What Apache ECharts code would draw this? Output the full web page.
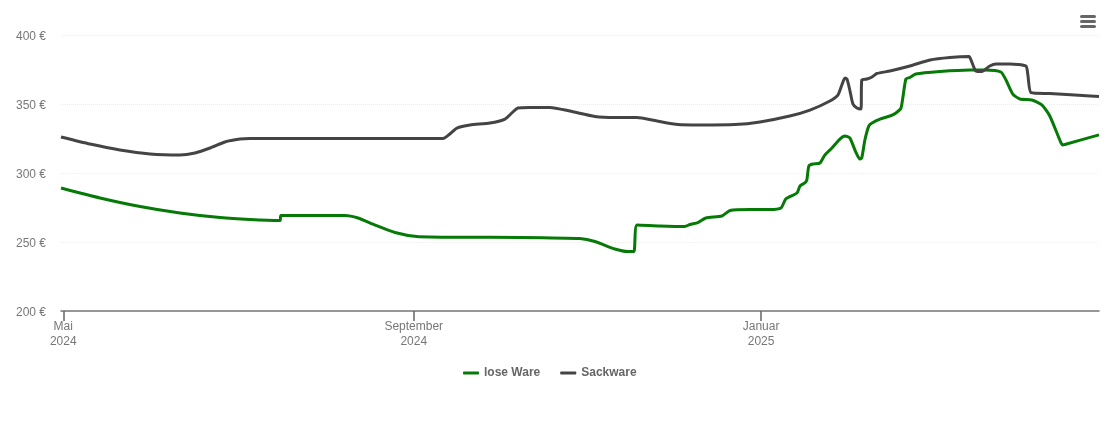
<!DOCTYPE html>
<html>
<head>
<meta charset="utf-8">
<style>html,body{margin:0;padding:0;background:#fff}</style>
<script src="https://cdn.jsdelivr.net/npm/echarts@6/dist/echarts.min.js"></script>
</head>
<body>
<div id="chart" style="width:1110px;height:422px"></div>
<script>
// days are counted from 1 May 2024
var looseDays = [-0.7,13.0,27.1,41.1,55.2,65.7,76.3,76.6,83.3,99.1,103.7,109.7,116.7,124.4,139.5,160.6,181.7,187.0,194.0,198.6,200.7,201.8,209.8,218.6,220.4,223.2,226.0,231.6,234.5,241.5,248.5,252.4,254.1,258.0,259.1,260.8,261.5,262.2,263.6,266.1,267.8,270.3,273.1,274.9,276.6,278.7,280.1,280.8,281.9,283.3,284.4,287.2,290.7,292.8,294.6,296.3,297.7,299.8,308.3,318.8,324.1,329.7,331.5,333.9,336.4,340.6,344.1,346.9,350.8,351.5,352.2,364.2];
var looseValues = [289.1,281.9,275.7,271.0,267.7,266.3,265.6,269.2,269.2,269.2,267.4,262.3,256.9,254.0,253.4,253.3,252.5,250.4,244.9,243.1,243.1,262.3,261.6,261.2,262.7,264.1,267.4,268.8,272.8,273.5,273.5,274.6,281.2,285.5,290.6,292.8,295.0,305.1,306.5,307.2,313.0,318.1,324.6,326.8,325.4,315.2,310.1,310.9,323.9,334.1,336.2,339.1,341.3,343.5,347.1,368.1,369.2,371.7,373.5,374.6,374.6,373.2,367.4,357.2,353.6,352.9,349.3,341.3,322.0,320.3,320.7,327.6];
var sackDays = [-0.7,9.5,20.0,30.6,41.1,46.4,51.7,56.9,62.2,65.7,83.3,133.6,136.0,138.5,143.1,150.1,155.4,157.8,159.9,164.2,171.2,178.2,187.0,194.0,201.8,208.1,216.2,223.9,236.2,245.0,255.5,262.6,269.6,272.4,273.8,274.9,275.6,276.6,277.7,279.1,280.5,280.8,282.6,284.4,286.1,290.7,297.7,304.8,311.8,318.5,319.5,320.9,323.0,325.8,328.0,332.9,338.5,339.2,340.3,346.9,355.7,364.2];
var sackValues = [326.1,321.0,316.7,313.8,313.0,314.5,318.1,322.5,324.6,325.0,325.0,325.0,328.3,332.6,334.8,336.2,339.1,343.5,347.1,347.5,347.5,344.9,341.0,340.2,340.2,338.0,335.1,334.8,335.1,337.0,341.3,345.6,352.2,356.5,363.8,368.8,368.1,360.1,350.0,347.1,346.4,367.4,368.1,369.6,372.1,373.9,377.5,381.9,383.7,384.4,380.4,373.9,373.5,377.5,379.0,379.0,377.5,371.0,358.3,357.6,356.5,355.4];
var tickDays = [0.1, 123.3, 245.4];
var tickLabels = ['Mai\n2024', 'September\n2024', 'Januar\n2025'];

function pairs(days, values) {
    return days.map(function (d, i) { return [d, values[i]]; });
}

var myChart = echarts.init(document.getElementById('chart'));
myChart.setOption({
    animation: false,
    textStyle: { fontFamily: '"Liberation Sans", Arial, sans-serif' },
    grid: { left: 61, right: 11, top: 35, bottom: 111 },
    legend: {
        top: 362,
        left: 458,
        icon: 'roundRect',
        itemWidth: 16,
        itemHeight: 3,
        itemGap: 20,
        textStyle: { color: '#666', fontSize: 12, fontWeight: 'bold' },
        data: ['lose Ware', 'Sackware']
    },
    xAxis: {
        type: 'value',
        min: -0.7,
        max: 364.2,
        splitLine: { show: false },
        axisLine: { lineStyle: { color: '#777', width: 1.5 } },
        axisTick: { show: true, length: 10, customValues: tickDays, lineStyle: { color: '#666', width: 1.5 } },
        axisLabel: {
            customValues: tickDays,
            color: '#777',
            fontSize: 12,
            lineHeight: 15,
            margin: 8,
            formatter: function (v) { return tickLabels[tickDays.indexOf(v)] || ''; }
        }
    },
    yAxis: {
        type: 'value',
        min: 200,
        max: 400,
        interval: 50,
        axisLine: { show: false },
        axisTick: { show: false },
        axisLabel: {
            color: '#777',
            fontSize: 12,
            margin: 15,
            formatter: '{v|{value} €}',
            rich: { v: { color: '#777', fontSize: 12, padding: [4, 0, 0, 0] } }
        },
        splitLine: { lineStyle: { color: '#eee', type: 'dotted', width: 1 } }
    },
    series: [{
        name: 'lose Ware',
        type: 'line',
        showSymbol: false,
        smooth: 0.2,
        color: '#067a06',
        lineStyle: { width: 3 },
        data: pairs(looseDays, looseValues)
    }, {
        name: 'Sackware',
        type: 'line',
        showSymbol: false,
        smooth: 0.2,
        color: '#444444',
        lineStyle: { width: 3 },
        data: pairs(sackDays, sackValues)
    }],
    // menu button, top right
    graphic: [15, 20, 25].map(function (y) {
        return { type: 'rect', left: 1080, top: y, shape: { width: 16, height: 3, r: 1.5 }, style: { fill: '#666' } };
    })
});
</script>
</body>
</html>
